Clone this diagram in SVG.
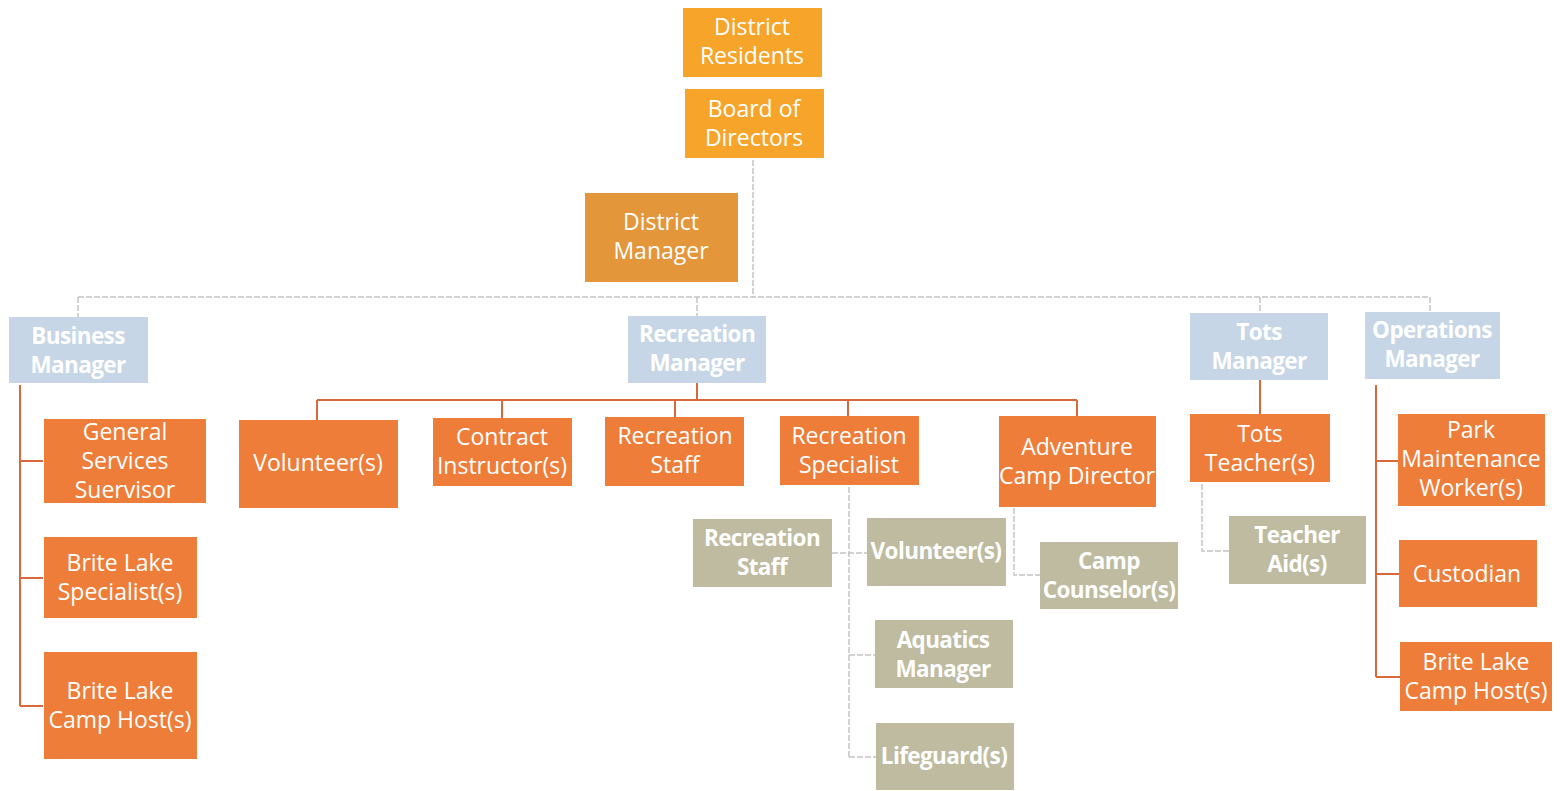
<svg xmlns="http://www.w3.org/2000/svg" width="1566" height="791" viewBox="0 0 1566 791">
<style>
text{font-family:"Open Sans","Liberation Sans",sans-serif;font-size:23px;fill:#fff;text-anchor:middle;dominant-baseline:central}
.b text{font-weight:bold;font-size:22.5px;letter-spacing:-0.6px}
.gold{fill:#F7A42A}
.dm{fill:#E4963A}
.org{fill:#EE7D3A}
.blue{fill:#C6D6E6}
.gray{fill:#BEBBA0}
.gl{stroke:#c4c4c4;stroke-width:1.5;fill:none;stroke-dasharray:6 2}
.ol{stroke:#D9683A;stroke-width:2;fill:none}
</style>
<rect width="1566" height="791" fill="#fff"/>
<g id="connectors">
<path class="gl" d="M753 160V297M78 297H1430M78 297V317M697 297V316M1260 297V313M1430 297V312"/>
<path class="ol" d="M697 383V400M317 400H1077M317 400V420M502 400V418M675 400V417M848 400V416M1077 400V416"/>
<path class="ol" d="M20 385V706M20 461H43M20 578H43M20 706H43"/>
<path class="ol" d="M1376 385V677M1376 461H1398M1376 574H1399M1376 677H1400"/>
<path class="ol" d="M1260 380V414"/>
<path class="gl" d="M849 487V757M832 553H867M849 655H875M849 757H876"/>
<path class="gl" d="M1014 508V575H1040"/>
<path class="gl" d="M1202 484V551H1229"/>
</g>
<g id="district-residents"><rect class="gold" x="683" y="8" width="139" height="69"/><text x="752" y="26">District</text><text x="752" y="55">Residents</text></g>
<g id="board-of-directors"><rect class="gold" x="685" y="89" width="139" height="69"/><text x="754" y="108">Board of</text><text x="754" y="137">Directors</text></g>
<g id="district-manager"><rect class="dm" x="585" y="193" width="153" height="89"/><text x="661" y="221">District</text><text x="661" y="250">Manager</text></g>
<g id="business-manager" class="b"><rect class="blue" x="9" y="317" width="139" height="66"/><text x="78" y="335">Business</text><text x="78" y="364">Manager</text></g>
<g id="recreation-manager" class="b"><rect class="blue" x="628" y="316" width="138" height="67"/><text x="697" y="333">Recreation</text><text x="697" y="362">Manager</text></g>
<g id="tots-manager" class="b"><rect class="blue" x="1190" y="313" width="138" height="67"/><text x="1259" y="331">Tots</text><text x="1259" y="360">Manager</text></g>
<g id="operations-manager" class="b"><rect class="blue" x="1365" y="312" width="135" height="67"/><text x="1432" y="329">Operations</text><text x="1432" y="358">Manager</text></g>
<g id="general-services"><rect class="org" x="44" y="419" width="162" height="84"/><text x="125" y="431">General</text><text x="125" y="460">Services</text><text x="125" y="489">Suervisor</text></g>
<g id="brite-lake-specialist"><rect class="org" x="44" y="537" width="153" height="81"/><text x="120" y="562">Brite Lake</text><text x="120" y="591">Specialist(s)</text></g>
<g id="brite-lake-camp-host-1"><rect class="org" x="44" y="652" width="153" height="107"/><text x="120" y="690">Brite Lake</text><text x="120" y="719">Camp Host(s)</text></g>
<g id="volunteers"><rect class="org" x="239" y="420" width="159" height="88"/><text x="318" y="462">Volunteer(s)</text></g>
<g id="contract-instructors"><rect class="org" x="433" y="418" width="139" height="68"/><text x="502" y="436">Contract</text><text x="502" y="465">Instructor(s)</text></g>
<g id="recreation-staff"><rect class="org" x="605" y="417" width="139" height="69"/><text x="675" y="435">Recreation</text><text x="675" y="464">Staff</text></g>
<g id="recreation-specialist"><rect class="org" x="780" y="416" width="139" height="69"/><text x="849" y="435">Recreation</text><text x="849" y="464">Specialist</text></g>
<g id="adventure-camp-director"><rect class="org" x="999" y="416" width="157" height="91"/><text x="1077" y="446">Adventure</text><text x="1077" y="475">Camp Director</text></g>
<g id="tots-teachers"><rect class="org" x="1190" y="414" width="140" height="68"/><text x="1260" y="433">Tots</text><text x="1260" y="462">Teacher(s)</text></g>
<g id="park-maintenance"><rect class="org" x="1398" y="414" width="147" height="92"/><text x="1471" y="429">Park</text><text x="1471" y="458">Maintenance</text><text x="1471" y="487">Worker(s)</text></g>
<g id="custodian"><rect class="org" x="1399" y="540" width="138" height="67"/><text x="1467" y="573">Custodian</text></g>
<g id="brite-lake-camp-host-2"><rect class="org" x="1400" y="642" width="152" height="69"/><text x="1476" y="661">Brite Lake</text><text x="1476" y="690">Camp Host(s)</text></g>
<g id="recreation-staff-2" class="b"><rect class="gray" x="693" y="519" width="139" height="68"/><text x="762" y="537">Recreation</text><text x="762" y="566">Staff</text></g>
<g id="volunteers-2" class="b"><rect class="gray" x="867" y="518" width="139" height="68"/><text x="936" y="550">Volunteer(s)</text></g>
<g id="camp-counselors" class="b"><rect class="gray" x="1040" y="542" width="138" height="67"/><text x="1109" y="560">Camp</text><text x="1109" y="589">Counselor(s)</text></g>
<g id="aquatics-manager" class="b"><rect class="gray" x="875" y="620" width="138" height="68"/><text x="943" y="639">Aquatics</text><text x="943" y="668">Manager</text></g>
<g id="lifeguards" class="b"><rect class="gray" x="876" y="723" width="138" height="67"/><text x="944" y="755">Lifeguard(s)</text></g>
<g id="teacher-aids" class="b"><rect class="gray" x="1229" y="516" width="137" height="68"/><text x="1297" y="534">Teacher</text><text x="1297" y="563">Aid(s)</text></g>
</svg>
